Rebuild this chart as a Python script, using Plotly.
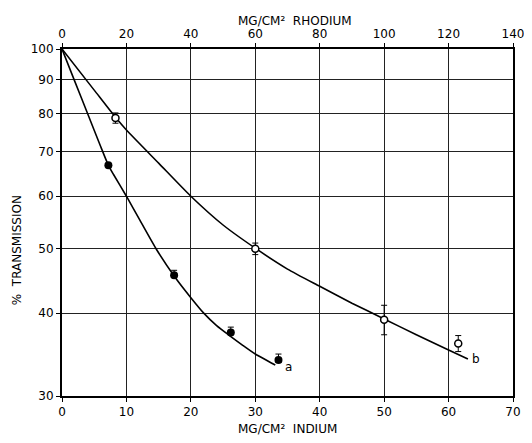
import plotly.graph_objects as go

# ---- data ----
# curve a: indium (bottom axis), filled circles
a_x = [7.2, 17.4, 26.2, 33.6]
a_y = [66.8, 45.6, 37.4, 34.0]
a_err_up = [0.0, 0.8, 0.7, 0.7]
a_err_dn = [0.0, 0.3, 0.3, 0.3]
a_fit_x = [0, 2, 4, 6, 7.2, 8, 10, 12, 14.6, 17.4, 20, 22, 24, 26, 28, 30, 33.1]
a_fit_y = [100, 89.3, 79.8, 71.3, 66.8, 64.7, 60, 55.4, 50, 45.5, 42.2, 40, 38.3, 37.0, 35.8, 34.7, 33.4]

# curve b: rhodium (top axis), open circles
b_x = [16.6, 60, 100, 123]
b_y = [78.7, 50.0, 39.1, 36.0]
b_err = [1.4, 1.0, 2.0, 1.0]
b_fit_x = [0, 10, 16.6, 20, 30, 40, 50, 60, 70, 80, 90, 100, 110, 120, 126]
b_fit_y = [100, 86.7, 78.9, 75.5, 67.3, 60, 54.3, 50.1, 46.6, 43.9, 41.4, 39.2, 37.1, 35.2, 34.1]

y_ticks = [30, 40, 50, 60, 70, 80, 90, 100]
indium_ticks = [0, 10, 20, 30, 40, 50, 60, 70]
rhodium_ticks = [0, 20, 40, 60, 80, 100, 120, 140]

FONT = "DejaVu Sans"

fig = go.Figure()
fig.add_trace(go.Scatter(x=a_fit_x, y=a_fit_y, mode="lines",
                         line=dict(color="black", width=1.6, shape="spline", smoothing=0.6),
                         hoverinfo="skip", showlegend=False))
fig.add_trace(go.Scatter(x=b_fit_x, y=b_fit_y, xaxis="x2", mode="lines",
                         line=dict(color="black", width=1.6, shape="spline", smoothing=0.6),
                         hoverinfo="skip", showlegend=False))
fig.add_trace(go.Scatter(x=a_x, y=a_y, mode="markers",
                         marker=dict(color="black", size=8),
                         error_y=dict(type="data", symmetric=False, array=a_err_up, arrayminus=a_err_dn,
                                      color="black", thickness=1, width=3),
                         showlegend=False))
fig.add_trace(go.Scatter(x=b_x, y=b_y, xaxis="x2", mode="markers",
                         marker=dict(color="white", size=7, line=dict(color="black", width=1.5)),
                         error_y=dict(type="data", array=b_err, color="black", thickness=1, width=3),
                         showlegend=False))
fig.add_trace(go.Scatter(x=[None], y=[None], yaxis="y2", showlegend=False))

axis_common = dict(showline=True, linecolor="black", linewidth=2, mirror=False,
                   gridcolor="#222", gridwidth=1.2, ticks="outside", ticklen=4,
                   tickcolor="black", tickwidth=1.2, zeroline=False, automargin=False,
                   tickfont=dict(family=FONT, size=12, color="black"))

# the page body adds an 8px offset, so the figure is sized to fit the window
fig.update_layout(
    width=524, height=435,
    margin=dict(l=54, r=19, t=41, b=47, autoexpand=False),
    paper_bgcolor="white", plot_bgcolor="white",
    font=dict(family=FONT, color="black"),
    xaxis=dict(range=[0, 70], tickvals=indium_ticks, showgrid=True, **axis_common),
    xaxis2=dict(range=[0, 140], tickvals=rhodium_ticks, overlaying="x", side="top",
                showgrid=False, **axis_common),
    yaxis=dict(type="log", range=[1.4771212547, 2], tickvals=y_ticks,
               ticktext=[str(v) for v in y_ticks], showgrid=True, **axis_common),
    yaxis2=dict(overlaying="y", side="right", type="log", range=[1.4771212547, 2],
                showline=True, linecolor="black", linewidth=2, showticklabels=False,
                showgrid=False, ticks="", automargin=False),
)

fig.add_annotation(text="MG/CM²  INDIUM", xref="paper", yref="paper", x=0.5, y=-0.095,
                   showarrow=False, font=dict(family=FONT, size=12), yanchor="middle")
fig.add_annotation(text="MG/CM²  RHODIUM", xref="paper", yref="paper", x=0.517, y=1.081,
                   showarrow=False, font=dict(family=FONT, size=12), yanchor="middle")
fig.add_annotation(text="%  TRANSMISSION", xref="paper", yref="paper", x=-0.1, y=0.42,
                   showarrow=False, textangle=-90, font=dict(family=FONT, size=12), xanchor="center")
fig.add_annotation(text="a", x=35.1, y=1.521, xref="x", yref="y", showarrow=False,
                   font=dict(family=FONT, size=12))
fig.add_annotation(text="b", x=128.6, y=1.533, xref="x2", yref="y", showarrow=False,
                   font=dict(family=FONT, size=12))

fig.write_html("out.html")
